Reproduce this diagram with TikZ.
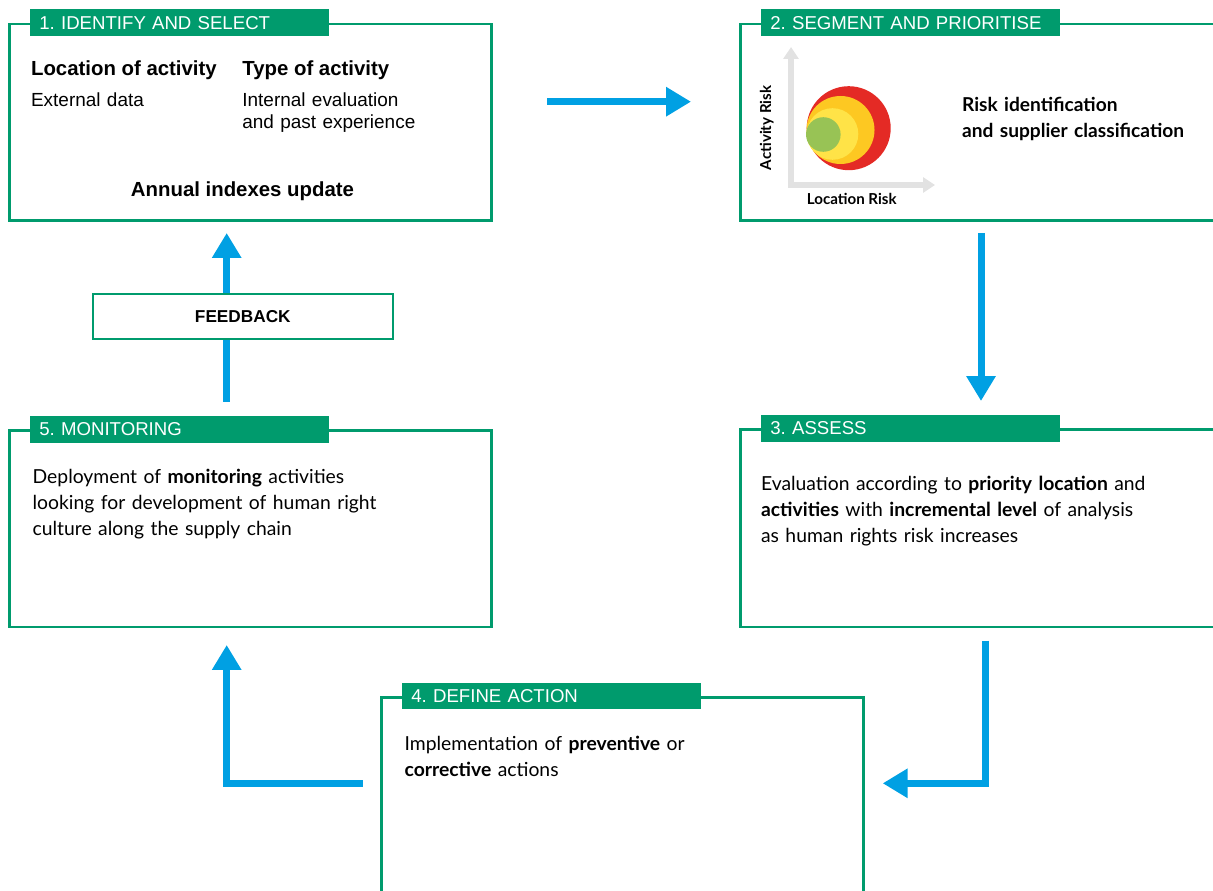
\documentclass[tikz,border=0pt]{standalone}
\usepackage{fontspec}
\setmainfont{Lato}
\newfontfamily\headfont{Liberation Sans}
\usetikzlibrary{arrows.meta,positioning}
\definecolor{stepgreen}{HTML}{009B6D}
\definecolor{flowblue}{HTML}{00A0E3}
\definecolor{axisgray}{HTML}{E2E2E2}
\definecolor{riskred}{HTML}{E42A25}
\definecolor{riskorange}{HTML}{FDC822}
\definecolor{riskyellow}{HTML}{FFE347}
\definecolor{riskgreen}{HTML}{98C355}
\frenchspacing
\newcommand{\stagetab}[3]{
  \node(#1-tab)[steptab,right=0.44cm of #2.north west,anchor=west]{#3};
}

\begin{document}
\begin{tikzpicture}[
  x=0.02cm,y=-0.02cm,
  stagebox/.style={draw=stepgreen,line width=1.5pt,anchor=north west,inner sep=0pt},
  steptab/.style={fill=stepgreen,text=white,minimum height=0.53cm,inner ysep=0pt,
    inner xsep=0.18cm,text width=5.62cm,align=left,
    font=\headfont\fontsize{10.6}{12}\selectfont},
  headtxt/.style={anchor=base west,inner sep=0pt,font=\headfont\bfseries\fontsize{11.6}{14}\selectfont},
  plaintxt/.style={anchor=base west,inner sep=0pt,text width=5cm,align=left,
    font=\headfont\fontsize{10.8}{12.5}\selectfont},
  bodytxt/.style={anchor=base west,inner sep=0pt,text width=8.5cm,align=left,
    font=\fontsize{11}{14.8}\selectfont},
  axislabel/.style={inner sep=0pt,font=\bfseries\fontsize{8.6}{10}\selectfont},
  flow/.style={draw=flowblue,line width=4pt,-{Triangle[length=0.5cm,width=0.56cm]}},
  ]
  \clip (0,0) rectangle (1213,891);
  % stage boxes
  \node(identify)[stagebox,minimum width=9.64cm,minimum height=3.93cm] at (8,22.7){};
  \node(segment)[stagebox,minimum width=10cm,minimum height=3.93cm] at (739,22.7){};
  \node(assess)[stagebox,minimum width=10cm,minimum height=3.95cm] at (739,428.3){};
  \node(action)[stagebox,minimum width=9.65cm,minimum height=5cm] at (380,696){};
  \node(monitor)[stagebox,minimum width=9.64cm,minimum height=3.93cm] at (8,429.3){};
  \stagetab{identify}{identify}{1. IDENTIFY AND SELECT}
  \stagetab{segment}{segment}{2. SEGMENT AND PRIORITISE}
  \stagetab{assess}{assess}{3. ASSESS}
  \stagetab{action}{action}{4. DEFINE ACTION}
  \stagetab{monitor}{monitor}{5. MONITORING}

  % 1
  \node(loc-head)[headtxt] at (30.7,76){Location of activity};
  \node(type-head)[headtxt] at (242,76){Type of activity};
  \node(loc-text)[plaintxt] at (30.7,107){External data};
  \node(type-text)[plaintxt] at (242,107){Internal evaluation\\and past experience};
  \node(update)[headtxt,anchor=base] at (242.5,197){Annual indexes update};

  % 2
  \draw[axisgray,line width=3.4pt,line join=miter,
    {Triangle[length=0.24cm,width=0.3cm]}-{Triangle[length=0.24cm,width=0.3cm]}]
    (791,47) -- (791,185) -- (935,185);
  \fill[riskred] (848.7,128.2) circle (42);
  \fill[riskorange] (840.5,130) circle (34);
  \fill[riskyellow] (832.5,134) circle (25.8);
  \fill[riskgreen] (823.3,134.5) circle (17.3);
  \node(act-risk)[axislabel,rotate=90] at (766.7,128){Activity Risk};
  \node(loc-risk)[axislabel,anchor=base] at (851.7,205){Location Risk};
  \node(classify)[bodytxt,text width=6cm,font=\bfseries\fontsize{10.9}{14.9}\selectfont]
    at (961.7,111.7){Risk identification\\and supplier classification};

  % 3
  \node(assess-text)[bodytxt] at (760.7,490){Evaluation according to \textbf{priority location} and\\
    \textbf{activities} with \textbf{incremental level} of analysis\\
    as human rights risk increases};
  % 4
  \node(action-text)[bodytxt] at (404.3,750){Implementation of \textbf{preventive} or\\
    \textbf{corrective} actions};
  % 5
  \node(monitor-text)[bodytxt] at (32.3,483.3){Deployment of \textbf{monitoring} activities\\
    looking for development of human right\\
    culture along the supply chain};

  \node(feedback)[draw=stepgreen,line width=1.3pt,fill=white,anchor=north west,
    minimum width=6cm,minimum height=0.9cm,
    font=\headfont\bfseries\fontsize{9.8}{12}\selectfont] at (91.7,292.7){FEEDBACK};

  % flow arrows
  \coordinate(identify-out) at (547,101.7);
  \coordinate(segment-in) at (691,101.7);
  \coordinate(segment-out) at (981,233);
  \coordinate(assess-in) at (981,401);
  \coordinate(assess-out) at (985,640.7);
  \coordinate(action-in) at (882.7,783.3);
  \coordinate(action-out) at (362.7,783.3);
  \coordinate(monitor-in) at (226.7,645);
  \coordinate(monitor-out) at (226.7,401.7);
  \coordinate(identify-in) at (226.7,233);
  \path[flow] (identify-out) -- (segment-in);
  \path[flow] (segment-out) -- (assess-in);
  \path[flow] (assess-out) |- (action-in);
  \path[flow] (action-out) -| (monitor-in);
  \path[flow,-] (monitor-out) -- (monitor-out |- feedback.south);
  \path[flow] (identify-in |- feedback.north) -- (identify-in);
\end{tikzpicture}
\end{document}
